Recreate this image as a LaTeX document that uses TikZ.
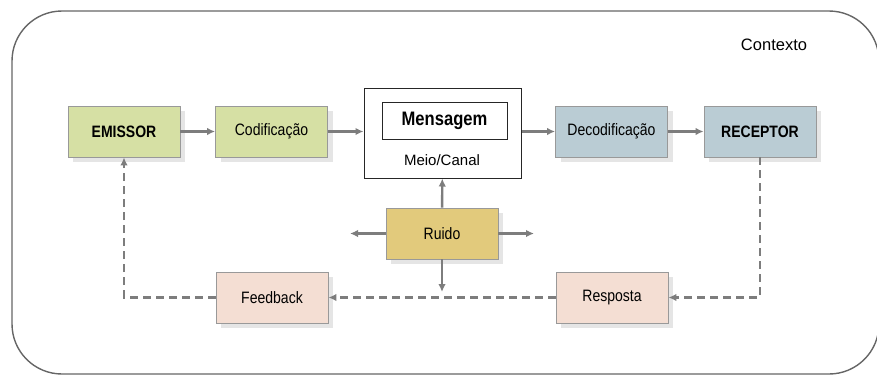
\documentclass[tikz,border=0pt]{standalone}
\usepackage{fontspec}
\setmainfont{Liberation Sans}
\newfontfamily\narrowfont[FakeStretch=0.85]{Liberation Sans}
\usetikzlibrary{shadows,arrows.meta}

\definecolor{emgreen}{RGB}{214,224,164}
\definecolor{rcblue}{RGB}{186,204,212}
\definecolor{rdyellow}{RGB}{226,202,124}
\definecolor{fbpink}{RGB}{244,222,211}
\definecolor{lngray}{RGB}{125,125,125}

\begin{document}
\begin{tikzpicture}[x=1pt,y=-1pt,
  blk/.style={draw=gray!80, line width=0.8pt, minimum width=112pt, minimum height=51pt, inner sep=0pt,
    font=\narrowfont\fontsize{16.5}{18}\selectfont,
    drop shadow={shadow xshift=5pt, shadow yshift=-5pt, fill=black!10, opacity=1}},
  flow/.style={draw=lngray, line width=2.4pt, -{Latex[length=8pt,width=7.5pt]}},
  back/.style={flow, line width=2.6pt, dash pattern=on 8pt off 5pt}]
\def\UP{131.5};\def\LOW{297.5};
\useasboundingbox (0,0) rectangle (877,376);
% \draw[help lines, color=gray!30] (0,0) grid[step=50pt] (877,376);
\draw[draw=black!60, line width=1.4pt, rounded corners=50pt] (12,11) rectangle (879,374);
\node[font=\fontsize{16.5}{18}\selectfont] (ctx) at (774,45) {Contexto};
% upper row
\node[blk, fill=emgreen, font=\narrowfont\bfseries\fontsize{16.5}{18}\selectfont] (emissor) at (124,\UP) {EMISSOR};
\node[blk, fill=emgreen] (codif) at (271.5,\UP) {Codificação};
\node[draw=black!85, line width=1pt, minimum width=157pt, minimum height=90pt] (canal) at (442.5,133) {};
\node[draw=black!85, line width=1pt, minimum width=125pt, minimum height=37pt, inner sep=0pt,
  font=\narrowfont\bfseries\fontsize{19.5}{20}\selectfont] (msg) at (444.5,120.5) {Mensagem};
\node[font=\fontsize{15}{18}\selectfont] (meio) at (442,160) {Meio/Canal};
\node[blk, fill=rcblue] (decod) at (611.5,\UP) {Decodificação};
\node[blk, fill=rcblue, font=\narrowfont\bfseries\fontsize{16.5}{18}\selectfont] (receptor) at (760,\UP) {RECEPTOR};
% noise and feedback
\node[blk, fill=rdyellow] (ruido) at (442,233.5) {Ruido};
\node[blk, fill=fbpink] (feedback) at (272,\LOW) {Feedback};
\node[blk, fill=fbpink] (resposta) at (612,\LOW) {Resposta};
\coordinate (rl) at (350,233.5); \coordinate (rr) at (534,233.5); \coordinate (rd) at (442,292);
\draw[flow] (emissor)--(codif);
\draw[flow] (codif.east)--(codif.east-|canal.west);
\draw[flow] (canal.east|-decod.west)--(decod.west);
\draw[flow] (decod)--(receptor);
\draw[flow] (ruido)--(canal);
\draw[flow] (ruido)--(rl);
\draw[flow] (ruido)--(rr);
\draw[flow] (ruido)--(rd);
\draw[back] (receptor.south)|-(resposta.east);
\draw[back] (resposta)--(feedback);
\draw[back] (feedback.west)-|(emissor.south);
\end{tikzpicture}
\end{document}
